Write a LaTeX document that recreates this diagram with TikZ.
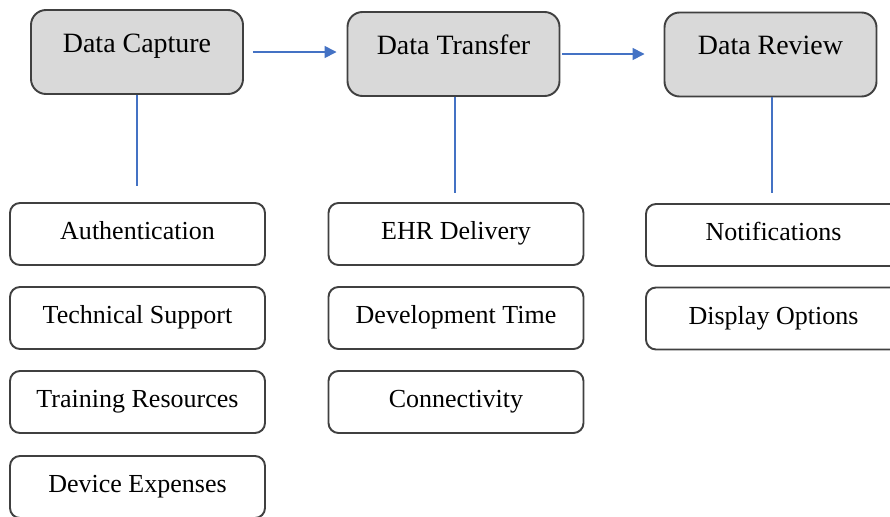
\documentclass[tikz,border=0pt]{standalone}
\usepackage{fontspec}
\setmainfont{Liberation Serif}
\usetikzlibrary{arrows.meta}
\definecolor{linkblue}{RGB}{68,114,196}

\begin{document}
\begin{tikzpicture}[
        stage/.style={draw=black!75, line width=1.1pt, rounded corners=0.3cm, fill=black!15,
            minimum width=4.24cm, minimum height=1.68cm,
            font=\fontsize{15.9}{18}\selectfont, text height=0.7em, text depth=0.7em},
        factor/.style={draw=black!75, line width=1.1pt, rounded corners=0.2cm, fill=white,
            minimum width=5.1cm, minimum height=1.24cm,
            font=\fontsize{14.8}{17}\selectfont, text height=0.9em, text depth=0.22em},
        link/.style={linkblue, line width=0.9pt}
    ]
        \clip (0,0) rectangle (17.8,10.32);

        \node[stage] (capture) at (2.74,9.28) {Data Capture};
        \node[stage] (transfer) at (9.07,9.24) {Data Transfer};
        \node[stage] (review) at (15.41,9.23) {Data Review};

        \node[factor] (auth) at (2.75,5.64) {Authentication};
        \node[factor] (support) at (2.75,3.96) {Technical Support};
        \node[factor] (training) at (2.75,2.28) {Training Resources};
        \node[factor] (expenses) at (2.75,0.58) {Device Expenses};

        \node[factor] (ehr) at (9.12,5.64) {EHR Delivery};
        \node[factor] (devtime) at (9.12,3.96) {Development Time};
        \node[factor] (connect) at (9.12,2.28) {Connectivity};

        \node[factor] (notify) at (15.47,5.62) {Notifications};
        \node[factor] (display) at (15.47,3.95) {Display Options};

        \coordinate (capture end) at (2.74,6.6);
        \coordinate (transfer end) at (9.1,6.46);
        \coordinate (review end) at (15.44,6.46);

        \draw[link] (capture.south) -- (capture end);
        \draw[link] (transfer.south -| transfer end) -- (transfer end);
        \draw[link] (review.south -| review end) -- (review end);

        \draw[link, -{Triangle[length=0.24cm, width=0.24cm]}, shorten <=0.18cm, shorten >=0.2cm]
            (capture.east) -- (capture.east -| transfer.west);
        \draw[link, -{Triangle[length=0.24cm, width=0.24cm]}, shorten <=0.04cm, shorten >=0.38cm]
            (transfer.east) -- (transfer.east -| review.west);
    \end{tikzpicture}
\end{document}
